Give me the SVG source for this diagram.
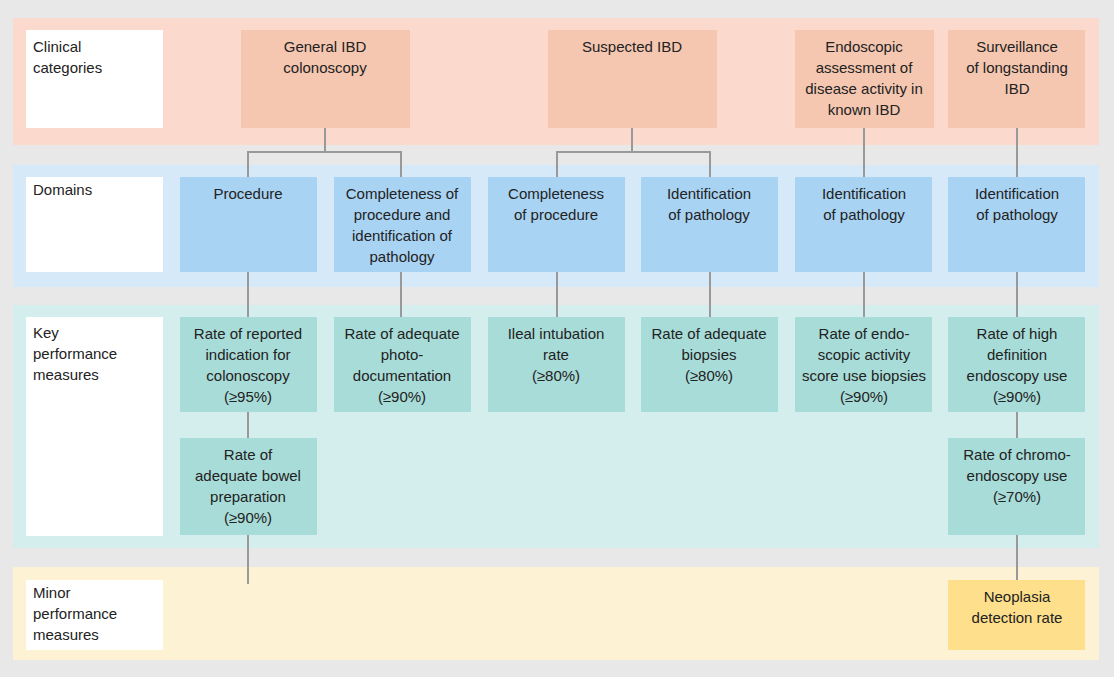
<svg xmlns="http://www.w3.org/2000/svg" width="1114" height="677" viewBox="0 0 1114 677">
<style>
text{font-family:"Liberation Sans",Arial,sans-serif;font-size:15px;fill:#222}
.c{text-anchor:middle}
.lbl{fill:#fff}
.pk{fill:#f5c7b1}.bl{fill:#a9d3f3}.tl{fill:#a8dcd8}.yl{fill:#fddf8c}
#connectors path{stroke:#999;stroke-width:2;fill:none}
</style>
<rect width="1114" height="677" fill="#e8e8e8"/>
<rect x="13" y="18" width="1086" height="127" fill="#fbdacd"/>
<rect x="13" y="165" width="1086" height="122" fill="#d6e9f8"/>
<rect x="13" y="305" width="1086" height="243" fill="#d4eeee"/>
<rect x="13" y="567" width="1086" height="93" fill="#fdf3d4"/>
<g id="connectors">
<path d="M325 128V152M248 177V152H401V177M632 128V152M557 177V152H710V177M864 128V177M1017 128V177"/>
<path d="M248 272V317M401 272V317M557 272V317M710 272V317M864 272V317M1017 272V317"/>
<path d="M248 412V438M248 535V584M1017 412V438M1017 535V580"/>
</g>
<g id="lbl1"><rect class="lbl" x="26" y="30" width="137" height="98"/><text x="33" y="52">Clinical</text><text x="33" y="73">categories</text></g>
<g id="lbl2"><rect class="lbl" x="26" y="177" width="137" height="95"/><text x="33" y="195">Domains</text></g>
<g id="lbl3"><rect class="lbl" x="26" y="317" width="137" height="219"/><text x="33" y="338">Key</text><text x="33" y="359">performance</text><text x="33" y="380">measures</text></g>
<g id="lbl4"><rect class="lbl" x="26" y="580" width="137" height="70"/><text x="33" y="598">Minor</text><text x="33" y="619">performance</text><text x="33" y="640">measures</text></g>
<g id="c1"><rect class="pk" x="241" y="30" width="169" height="98"/><text class="c" x="325" y="52">General IBD</text><text class="c" x="325" y="73">colonoscopy</text></g>
<g id="c2"><rect class="pk" x="548" y="30" width="169" height="98"/><text class="c" x="632" y="52">Suspected IBD</text></g>
<g id="c3"><rect class="pk" x="795" y="30" width="139" height="98"/><text class="c" x="864" y="52">Endoscopic</text><text class="c" x="864" y="73">assessment of</text><text class="c" x="864" y="94">disease activity in</text><text class="c" x="864" y="115">known IBD</text></g>
<g id="c4"><rect class="pk" x="948" y="30" width="137" height="98"/><text class="c" x="1017" y="52">Surveillance</text><text class="c" x="1017" y="73">of longstanding</text><text class="c" x="1017" y="94">IBD</text></g>
<g id="d1"><rect class="bl" x="180" y="177" width="137" height="95"/><text class="c" x="248" y="199">Procedure</text></g>
<g id="d2"><rect class="bl" x="334" y="177" width="137" height="95"/><text class="c" x="402" y="199">Completeness of</text><text class="c" x="402" y="220">procedure and</text><text class="c" x="402" y="241">identification of</text><text class="c" x="402" y="262">pathology</text></g>
<g id="d3"><rect class="bl" x="488" y="177" width="137" height="95"/><text class="c" x="556" y="199">Completeness</text><text class="c" x="556" y="220">of procedure</text></g>
<g id="d4"><rect class="bl" x="641" y="177" width="137" height="95"/><text class="c" x="709" y="199">Identification</text><text class="c" x="709" y="220">of pathology</text></g>
<g id="d5"><rect class="bl" x="795" y="177" width="137" height="95"/><text class="c" x="864" y="199">Identification</text><text class="c" x="864" y="220">of pathology</text></g>
<g id="d6"><rect class="bl" x="948" y="177" width="137" height="95"/><text class="c" x="1017" y="199">Identification</text><text class="c" x="1017" y="220">of pathology</text></g>
<g id="k1"><rect class="tl" x="180" y="317" width="137" height="95"/><text class="c" x="248" y="339">Rate of reported</text><text class="c" x="248" y="360">indication for</text><text class="c" x="248" y="381">colonoscopy</text><text class="c" x="248" y="402">(≥95%)</text></g>
<g id="k2"><rect class="tl" x="334" y="317" width="137" height="95"/><text class="c" x="402" y="339">Rate of adequate</text><text class="c" x="402" y="360">photo-</text><text class="c" x="402" y="381">documentation</text><text class="c" x="402" y="402">(≥90%)</text></g>
<g id="k3"><rect class="tl" x="488" y="317" width="137" height="95"/><text class="c" x="556" y="339">Ileal intubation</text><text class="c" x="556" y="360">rate</text><text class="c" x="556" y="381">(≥80%)</text></g>
<g id="k4"><rect class="tl" x="641" y="317" width="137" height="95"/><text class="c" x="709" y="339">Rate of adequate</text><text class="c" x="709" y="360">biopsies</text><text class="c" x="709" y="381">(≥80%)</text></g>
<g id="k5"><rect class="tl" x="795" y="317" width="137" height="95"/><text class="c" x="864" y="339">Rate of endo-</text><text class="c" x="864" y="360">scopic activity</text><text class="c" x="864" y="381">score use biopsies</text><text class="c" x="864" y="402">(≥90%)</text></g>
<g id="k6"><rect class="tl" x="948" y="317" width="137" height="95"/><text class="c" x="1017" y="339">Rate of high</text><text class="c" x="1017" y="360">definition</text><text class="c" x="1017" y="381">endoscopy use</text><text class="c" x="1017" y="402">(≥90%)</text></g>
<g id="k7"><rect class="tl" x="180" y="438" width="137" height="97"/><text class="c" x="248" y="460">Rate of</text><text class="c" x="248" y="481">adequate bowel</text><text class="c" x="248" y="502">preparation</text><text class="c" x="248" y="523">(≥90%)</text></g>
<g id="k8"><rect class="tl" x="948" y="438" width="137" height="97"/><text class="c" x="1017" y="460">Rate of chromo-</text><text class="c" x="1017" y="481">endoscopy use</text><text class="c" x="1017" y="502">(≥70%)</text></g>
<g id="m1"><rect class="yl" x="948" y="580" width="137" height="70"/><text class="c" x="1017" y="602">Neoplasia</text><text class="c" x="1017" y="623">detection rate</text></g>
</svg>
